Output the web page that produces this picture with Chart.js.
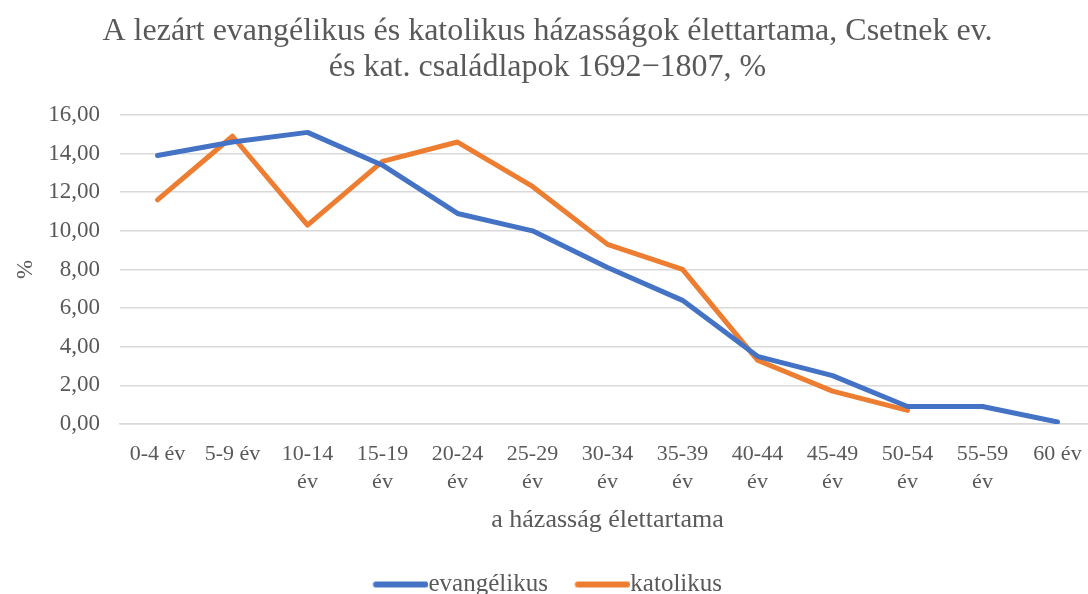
<!DOCTYPE html>
<html>
<head>
<meta charset="utf-8">
<script src="https://cdn.jsdelivr.net/npm/chart.js@4"></script>
<style>
  html, body { margin: 0; padding: 0; background: #fff; overflow: hidden; }
  #wrap { width: 1100px; height: 607px; position: relative; }
</style>
</head>
<body>
<div id="wrap"><canvas id="chart"></canvas></div>
<script>
// categories (x axis), multi-line labels like the original
const categories = [
  '0-4 év', '5-9 év', ['10-14', 'év'], ['15-19', 'év'], ['20-24', 'év'],
  ['25-29', 'év'], ['30-34', 'év'], ['35-39', 'év'], ['40-44', 'év'],
  ['45-49', 'év'], ['50-54', 'év'], ['55-59', 'év'], '60 év'
];

// percentages
const evangelikus = [13.9, 14.6, 15.1, 13.4, 10.9, 10.0, 8.1, 6.4, 3.5, 2.5, 0.9, 0.9, 0.1];
const katolikus = [11.6, 14.9, 10.3, 13.6, 14.6, 12.3, 9.3, 8.0, 3.3, 1.7, 0.7, null, null];

const titleLines = [
  'A lezárt evangélikus és katolikus házasságok élettartama, Csetnek ev.',
  'és kat. családlapok 1692−1807, %'
];

const SERIF = '"Liberation Serif", "Times New Roman", serif';
const TEXT = '#595959';
const GRID = '#d9d9d9';
const BLUE = '#4472C4';
const ORANGE = '#ED7D31';

// legend swatch: a thick round-capped line that runs right up to the text
// (chart.js normally leaves half a font size of gap after the box)
const BOX_W = 43;
const GAP = 12.5;
function legendLine(color) {
  const c = document.createElement('canvas');
  c.width = Math.round(BOX_W + 2 * GAP);
  c.height = 10;
  const g = c.getContext('2d');
  g.strokeStyle = color;
  g.lineWidth = 6;
  g.lineCap = 'round';
  g.beginPath();
  g.moveTo(GAP + 3, 5);
  g.lineTo(c.width - 3, 5);
  g.stroke();
  return c;
}

const canvas = document.getElementById('chart');

const commaFmt = (value) => Number(value).toFixed(2).replace('.', ',');

new Chart(canvas.getContext('2d'), {
  type: 'line',
  data: {
    labels: categories,
    datasets: [
      {
        label: 'evangélikus',
        data: evangelikus,
        borderColor: BLUE,
        backgroundColor: BLUE,
        borderWidth: 5,
        borderCapStyle: 'round',
        borderJoinStyle: 'round',
        pointRadius: 0,
        pointStyle: legendLine(BLUE),
        tension: 0,
      },
      {
        label: 'katolikus',
        data: katolikus,
        borderColor: ORANGE,
        backgroundColor: ORANGE,
        borderWidth: 5,
        borderCapStyle: 'round',
        borderJoinStyle: 'round',
        pointRadius: 0,
        pointStyle: legendLine(ORANGE),
        tension: 0,
      },
    ],
  },
  options: {
    responsive: true,
    maintainAspectRatio: false,
    animation: false,
    layout: { padding: { left: 0, right: 5, top: 0, bottom: 0 } },
    plugins: {
      title: {
        display: true,
        text: titleLines,
        color: TEXT,
        font: { family: SERIF, size: 32, weight: 'normal', lineHeight: 1.125 },
        padding: { top: 14, bottom: 29 },
      },
      legend: {
        position: 'bottom',
        labels: {
          color: TEXT,
          font: { family: SERIF, size: 25 },
          usePointStyle: true,
          pointStyleWidth: BOX_W,
          padding: 27,
        },
      },
      tooltip: { enabled: false },
    },
    scales: {
      x: {
        offset: true,
        grid: { display: false, drawTicks: false },
        border: { display: true, color: GRID, width: 1.5 },
        ticks: {
          color: TEXT,
          font: { family: SERIF, size: 22, lineHeight: 1.27 },
          padding: 16,
          maxRotation: 0,
          autoSkip: false,
        },
        title: {
          display: true,
          text: 'a házasság élettartama',
          color: TEXT,
          font: { family: SERIF, size: 26 },
          padding: { top: -7, bottom: 9 },
        },
      },
      y: {
        min: 0,
        max: 16,
        grid: { color: GRID, lineWidth: 1.5, drawTicks: false },
        border: { display: false },
        ticks: {
          stepSize: 2,
          color: TEXT,
          font: { family: SERIF, size: 23 },
          padding: 20,
          callback: commaFmt,
        },
        title: {
          display: true,
          text: '%',
          color: TEXT,
          font: { family: SERIF, size: 23 },
          padding: { top: 12, bottom: 0 },
        },
        afterFit: (scale) => { scale.width = 120; },
      },
    },
  },
});
</script>
</body>
</html>
